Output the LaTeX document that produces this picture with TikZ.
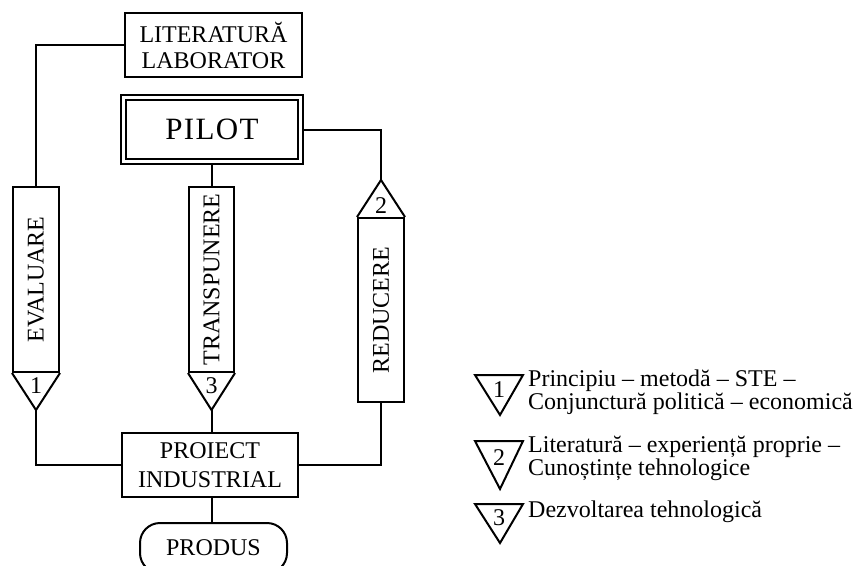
\documentclass[tikz,border=0pt]{standalone}
\usepackage{fontspec}
\setmainfont{Liberation Serif}
\begin{document}
\begin{tikzpicture}[x=1pt,y=-1pt,
  every node/.style={font=\fontsize{24}{26}\selectfont},
  lw/.style={line width=2pt},
  box/.style={draw, lw, inner sep=0pt, align=center},
  vbox/.style={box, minimum width=46pt, minimum height=185pt},
  legtext/.style={anchor=west, align=left, inner sep=0pt,
    font=\fontsize{24}{23}\selectfont}]
\clip (0,0) rectangle (858,565);

% source and pilot stages
\node[box, minimum width=177pt, minimum height=64pt] (lit) at (213.5,45) {LITERATURĂ\\LABORATOR};
\node[box, double, double distance=2.6pt, outer sep=3.3pt,
      minimum width=177.5pt, minimum height=64pt,
      font=\fontsize{31}{34}\selectfont] (pilot) at (212,129.5)
      {P\kern1.3pt I\kern1.3pt L\kern1.3pt O\kern1.3pt T};

% vertical stages
\node[vbox] (eval) at (36,279.5) {\rotatebox{90}{EVALUARE}};
\node[vbox, minimum width=45pt] (trans) at (211.5,279.5) {\rotatebox{90}{TRANSPUNERE}};
\node[vbox, minimum height=184pt] (red) at (381,310) {\rotatebox{90}{REDUCERE}};

% triangle markers on the stages
\coordinate (evaltip) at (36,410);
\coordinate (transtip) at (211.5,410);
\coordinate (redtip) at (381,180);
\draw[lw] (eval.south west) -- (evaltip) -- (eval.south east);
\draw[lw] (trans.south west) -- (transtip) -- (trans.south east);
\draw[lw] (red.north west) -- (redtip) -- (red.north east);
\node (m1) at (36,386) {1};
\node (m3) at (211.5,386) {3};
\node (m2) at (381,206) {2};

% industrial project and product
\node[box, minimum width=176pt, minimum height=64pt,
      font=\fontsize{24}{29}\selectfont] (proj) at (210,465) {PROIECT\\INDUSTRIAL};
\node[box, rounded corners=20pt, minimum width=147pt, minimum height=50pt] (prod) at (213.5,548) {PRODUS};

% connectors
\draw[lw] (lit.west) -| (eval.north);
\draw[lw] (pilot.east) -| (redtip);
\draw[lw] (pilot.south -| trans.north) -- (trans.north);
\draw[lw] (evaltip) |- (proj.west);
\draw[lw] (transtip) -- (transtip |- proj.north);
\draw[lw] (red.south) |- (proj.east);
\draw[lw] (transtip |- proj.south) -- (transtip |- prod.north);

% legend
\draw[lw] (475,375) -- (523,375) -- (500,415) coordinate (k1) -- cycle;
\node (k1n) at (499,390) {1};
\node[legtext] (k1t) at (528,392.5) {Principiu – metodă – STE –\\Conjunctură politică – economică};

\draw[lw] (475,441) -- (523,441) -- (500,489) coordinate (k2) -- cycle;
\node (k2n) at (499,458) {2};
\node[legtext] (k2t) at (528,458) {Literatură – experiență proprie –\\Cunoștințe tehnologice};

\draw[lw] (475,504) -- (523,504) -- (500,543) coordinate (k3) -- cycle;
\node (k3n) at (499,518) {3};
\node[legtext] (k3t) at (528,512) {Dezvoltarea tehnologică};
\end{tikzpicture}
\end{document}
